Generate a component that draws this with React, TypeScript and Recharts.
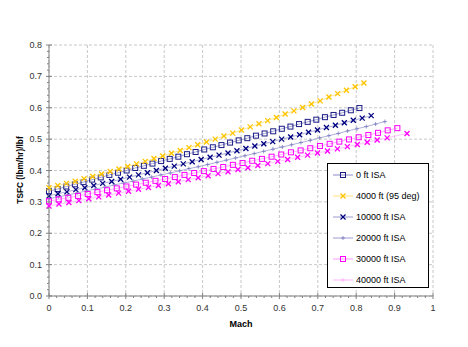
import { ScatterChart, Scatter, XAxis, YAxis, CartesianGrid, Legend } from 'recharts'

// airspeed steps (kt), same for every altitude
const knots = [
    0, 15, 30, 45, 60, 75, 90, 105, 120, 135, 150, 165, 180, 195, 210, 225, 240, 255, 270,
    285, 300, 315, 330, 345, 360, 375, 390, 405, 420, 435, 450, 465, 480, 495, 510, 525, 540,
]

const tsfc0ft = [
    0.334, 0.341, 0.349, 0.356, 0.363, 0.371, 0.378, 0.386, 0.393, 0.4, 0.408, 0.415, 0.422,
    0.43, 0.437, 0.444, 0.452, 0.459, 0.467, 0.474, 0.481, 0.489, 0.496, 0.503, 0.511, 0.518,
    0.525, 0.533, 0.54, 0.548, 0.555, 0.562, 0.57, 0.577, 0.584, 0.592, 0.599,
]
const tsfc4000ft = [
    0.345, 0.352, 0.359, 0.366, 0.374, 0.381, 0.389, 0.397, 0.405, 0.413, 0.421, 0.429, 0.438,
    0.446, 0.455, 0.464, 0.473, 0.482, 0.491, 0.5, 0.51, 0.519, 0.529, 0.539, 0.549, 0.559,
    0.569, 0.58, 0.59, 0.601, 0.612, 0.622, 0.634, 0.645, 0.656, 0.667, 0.679,
]
const tsfc10000ft = [
    0.319, 0.326, 0.332, 0.339, 0.345, 0.352, 0.359, 0.365, 0.372, 0.379, 0.386, 0.393, 0.4,
    0.407, 0.414, 0.421, 0.428, 0.435, 0.442, 0.449, 0.456, 0.463, 0.47, 0.478, 0.485, 0.492,
    0.5, 0.507, 0.514, 0.522, 0.529, 0.537, 0.544, 0.552, 0.56, 0.567, 0.575,
]
const tsfc20000ft = [
    0.31, 0.316, 0.322, 0.328, 0.335, 0.341, 0.347, 0.354, 0.36, 0.366, 0.373, 0.379, 0.386,
    0.392, 0.399, 0.406, 0.412, 0.419, 0.426, 0.433, 0.44, 0.447, 0.454, 0.461, 0.468, 0.475,
    0.482, 0.489, 0.496, 0.504, 0.511, 0.518, 0.526, 0.533, 0.54, 0.548, 0.556,
]
const tsfc30000ft = [
    0.302, 0.308, 0.313, 0.319, 0.325, 0.331, 0.337, 0.343, 0.349, 0.355, 0.361, 0.367, 0.373,
    0.379, 0.386, 0.392, 0.398, 0.405, 0.411, 0.418, 0.424, 0.431, 0.437, 0.444, 0.451, 0.458,
    0.464, 0.471, 0.478, 0.485, 0.492, 0.499, 0.506, 0.513, 0.52, 0.528, 0.535,
]
const tsfc40000ft = [
    0.287, 0.293, 0.298, 0.304, 0.31, 0.316, 0.322, 0.328, 0.334, 0.34, 0.346, 0.352, 0.358,
    0.364, 0.371, 0.377, 0.383, 0.39, 0.396, 0.403, 0.409, 0.416, 0.422, 0.429, 0.435, 0.442,
    0.449, 0.456, 0.462, 0.469, 0.476, 0.483, 0.49, 0.497, 0.504, null, 0.518,
]

// speed of sound (kt) used to turn airspeed into Mach for each curve
const soundSpeed = [668, 658.5, 643.6, 617.3, 595.2, 579.2]

const seriesNames = [
    '0 ft ISA',
    '4000 ft (95 deg)',
    '10000 ft ISA',
    '20000 ft ISA',
    '30000 ft ISA',
    '40000 ft ISA',
]

const xTicks = [0, 0.1, 0.2, 0.3, 0.4, 0.5, 0.6, 0.7, 0.8, 0.9, 1]
const yTicks = [0, 0.1, 0.2, 0.3, 0.4, 0.5, 0.6, 0.7, 0.8]
const xMinor = Array.from({ length: 51 }, (_, i) => Math.round(i * 2) / 100)
const yMinor = Array.from({ length: 41 }, (_, i) => Math.round(i * 2) / 100)

const FONT = "'Liberation Sans', Arial, sans-serif"

type Marker = 'square' | 'x' | 'plus'

const styles: { marker: Marker; legendMarker: Marker; color: string; line: string }[] = [
    { marker: 'square', legendMarker: 'square', color: '#1c1c86', line: '#8c8cc8' },
    { marker: 'x', legendMarker: 'x', color: '#ffc400', line: '#ffe27a' },
    { marker: 'x', legendMarker: 'x', color: '#000080', line: '#9a9ad0' },
    { marker: 'plus', legendMarker: 'plus', color: '#7a7abf', line: '#9c9cd2' },
    { marker: 'square', legendMarker: 'square', color: '#ff00ff', line: '#ff9cff' },
    { marker: 'x', legendMarker: 'plus', color: '#ff00ff', line: '#ffb4ff' },
]

const allSeries = [tsfc0ft, tsfc4000ft, tsfc10000ft, tsfc20000ft, tsfc30000ft, tsfc40000ft]

const chartData = allSeries.map((vals, s) =>
    knots
        .map((kt, i) => ({ x: kt / soundSpeed[s], y: vals[i] }))
        .filter((p) => p.y !== null),
)

function MarkerShape({ cx, cy, type, color }: { cx: number; cy: number; type: Marker; color: string }) {
    if (type === 'square') {
        return <rect x={cx - 2.5} y={cy - 2.5} width={5} height={5} fill='none' stroke={color} strokeWidth={1} />
    }
    if (type === 'x') {
        return (
            <g stroke={color} strokeWidth={1.3}>
                <line x1={cx - 2.5} y1={cy - 2.5} x2={cx + 2.5} y2={cy + 2.5} />
                <line x1={cx - 2.5} y1={cy + 2.5} x2={cx + 2.5} y2={cy - 2.5} />
            </g>
        )
    }
    return (
        <g stroke={color} strokeWidth={0.8}>
            <line x1={cx - 2} y1={cy} x2={cx + 2} y2={cy} />
            <line x1={cx} y1={cy - 2} x2={cx} y2={cy + 2} />
        </g>
    )
}

const isMajor = (v: number) => Math.abs(v * 10 - Math.round(v * 10)) < 1e-6

function XTick({ x, y, payload }: any) {
    const v = payload.value
    const major = isMajor(v)
    const label = v === 0 ? '0' : v === 1 ? '1' : v.toFixed(1)
    return (
        <g>
            <line x1={x} x2={x} y1={major ? y - 3 : y} y2={major ? y + 3 : y + 2} stroke='#808080' />
            {major && (
                <text x={x} y={y + 15} textAnchor='middle' fontSize={9} fill='#333' fontFamily={FONT}>
                    {label}
                </text>
            )}
        </g>
    )
}

function YTick({ x, y, payload }: any) {
    const v = payload.value
    const major = isMajor(v)
    return (
        <g>
            <line x1={major ? x - 3 : x - 2} x2={major ? x + 3 : x} y1={y} y2={y} stroke='#808080' />
            {major && (
                <text x={x - 7} y={y + 3} textAnchor='end' fontSize={9} fill='#333' fontFamily={FONT}>
                    {v.toFixed(1)}
                </text>
            )}
        </g>
    )
}

function LegendBox() {
    return (
        <svg width={102} height={125}>
            <rect x={0.5} y={0.5} width={101} height={124} fill='#fff' stroke='#000' strokeWidth={1} />
            {seriesNames.map((name, i) => {
                const cy = 12 + i * 21
                const st = styles[i]
                return (
                    <g key={name}>
                        <line x1={6} x2={26} y1={cy} y2={cy} stroke={st.line} strokeWidth={1} />
                        <MarkerShape cx={16} cy={cy} type={st.legendMarker} color={i === 5 ? st.line : st.color} />
                        <text x={29} y={cy + 3} fontSize={9} fill='#000' fontFamily={FONT}>
                            {name}
                        </text>
                    </g>
                )
            })}
        </svg>
    )
}

export default function App() {
    return (
        <div style={{ position: 'absolute', left: 0, top: 0 }}>
            <ScatterChart
                width={468}
                height={347}
                margin={{ top: 45, right: 35, left: 9, bottom: 21 }}
            >
                <CartesianGrid
                    stroke='#c8c8c8'
                    strokeDasharray='3 2'
                    horizontalValues={yTicks}
                    verticalValues={xTicks}
                />
                <XAxis
                    type='number'
                    dataKey='x'
                    domain={[0, 1]}
                    ticks={xMinor}
                    interval={0}
                    tickSize={0}
                    tickMargin={0}
                    tickLine={false}
                    tick={<XTick />}
                    axisLine={{ stroke: '#808080' }}
                    height={30}
                    label={({ viewBox }: any) => (
                        <text
                            x={viewBox.x + viewBox.width / 2}
                            y={viewBox.y + 31}
                            textAnchor='middle'
                            fontSize={9}
                            fontWeight='bold'
                            fontFamily={FONT}
                        >
                            Mach
                        </text>
                    )}
                />
                <YAxis
                    type='number'
                    dataKey='y'
                    domain={[0, 0.8]}
                    ticks={yMinor}
                    interval={0}
                    tickSize={0}
                    tickMargin={0}
                    tickLine={false}
                    tick={<YTick />}
                    axisLine={{ stroke: '#808080' }}
                    width={40}
                    label={() => (
                        <text
                            x={21}
                            y={170}
                            transform={`rotate(-90 21 170)`}
                            textAnchor='middle'
                            dominantBaseline='middle'
                            fontSize={8.3}
                            fontWeight='bold'
                            fontFamily={FONT}
                        >
                            TSFC (lbm/hr)/lbf
                        </text>
                    )}
                />
                {chartData.map((data, i) => (
                    <Scatter
                        key={seriesNames[i]}
                        name={seriesNames[i]}
                        data={data}
                        line={{ stroke: styles[i].line, strokeWidth: 0.8 }}
                        lineJointType='linear'
                        isAnimationActive={false}
                        shape={(p: any) => (
                            <MarkerShape cx={p.cx} cy={p.cy} type={styles[i].marker} color={styles[i].color} />
                        )}
                    />
                ))}
                <Legend
                    layout='vertical'
                    align='center'
                    verticalAlign='middle'
                    content={() => <LegendBox />}
                    wrapperStyle={{ position: 'absolute', left: 327, top: 163, width: 102, height: 125 }}
                />
            </ScatterChart>
        </div>
    )
}
